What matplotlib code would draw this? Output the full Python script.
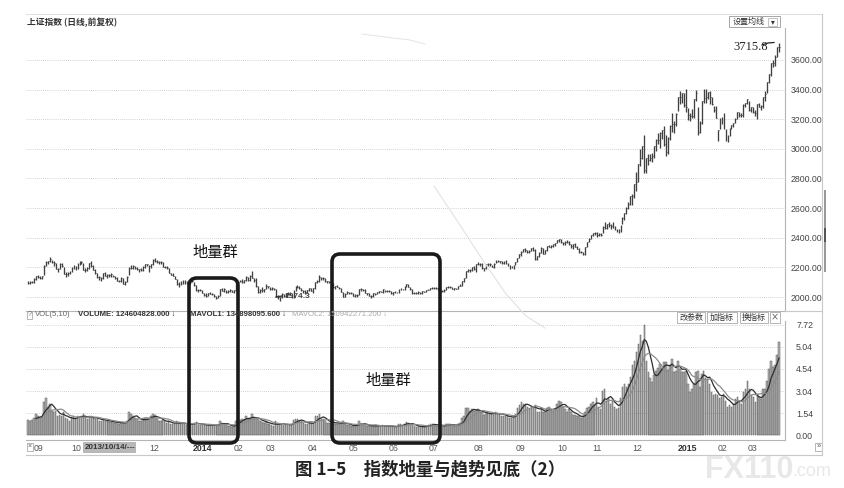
import numpy as np
import pandas as pd
import matplotlib
matplotlib.use('Agg')
import matplotlib.pyplot as plt
from matplotlib.patches import FancyBboxPatch, Rectangle

plt.rcParams['font.family'] = ['Liberation Sans', 'Noto Sans CJK SC', 'DejaVu Sans']
CJK = ['Noto Sans CJK SC', 'DejaVu Sans']

# ---------------- trading calendar (SSE) ----------------
holidays = ['2013-09-19', '2013-09-20', '2013-10-01', '2013-10-02', '2013-10-03', '2013-10-04',
            '2013-10-07', '2014-01-01', '2014-01-31', '2014-02-03', '2014-02-04', '2014-02-05',
            '2014-02-06', '2014-04-07', '2014-05-01', '2014-05-02', '2014-06-02', '2014-09-08',
            '2014-10-01', '2014-10-02', '2014-10-03', '2014-10-06', '2014-10-07', '2015-01-01',
            '2015-01-02', '2015-02-18', '2015-02-19', '2015-02-20', '2015-02-23', '2015-02-24']
dates = pd.bdate_range('2013-08-28', '2015-03-24')
dates = dates[~dates.isin(pd.to_datetime(holidays))]

# ---------------- daily data ----------------
close = [2097, 2102, 2098,
         2123, 2141, 2138, 2127, 2139, 2212, 2237, 2241, 2255, 2236, 2231, 2192, 2191, 2221, 2208, 2155, 2155, 2160, 2174,
         2198, 2211, 2190, 2228, 2238, 2233, 2183, 2183, 2193, 2229, 2210, 2184, 2164, 2133, 2133, 2128, 2160, 2141,
         2149, 2149, 2157, 2139, 2129, 2106, 2109, 2126, 2087, 2101, 2135, 2197, 2193, 2206, 2193, 2186, 2186, 2183, 2201, 2220, 2220,
         2207, 2222, 2251, 2245, 2238, 2238, 2238, 2205, 2202, 2196, 2161, 2151, 2143, 2123, 2085, 2090, 2089, 2114, 2089, 2102, 2097, 2116,
         2109, 2083, 2045, 2047, 2045, 2027, 2014, 2009, 2027, 2023, 2023, 2004, 1991, 2009, 2052, 2042, 2054, 2033, 2038, 2049, 2033,
         2044, 2086, 2104, 2110, 2100, 2115, 2135, 2113, 2142, 2128, 2113, 2076, 2034, 2048, 2047, 2056,
         2075, 2071, 2053, 2060, 2057, 1999, 2001, 1997, 2020, 2004, 2024, 2025, 2021, 1994, 2047, 2066, 2067, 2064, 2046, 2041, 2033,
         2047, 2059, 2043, 2058, 2100, 2105, 2134, 2130, 2131, 2105, 2105, 2099, 2098, 2066, 2072, 2067, 2063, 2036, 2003, 2023, 2033,
         2027, 2029, 2010, 2016, 2011, 2053, 2051, 2048, 2025, 2026, 2005, 2008, 2024, 2021, 2034, 2041, 2034, 2051, 2040, 2039,
         2038, 2024, 2035, 2030, 2029, 2052, 2055, 2051, 2070, 2087, 2066, 2055, 2024, 2026, 2024, 2034, 2025, 2038, 2036, 2048,
         2050, 2060, 2064, 2059, 2059, 2060, 2039, 2038, 2046, 2067, 2067, 2065, 2057, 2059, 2055, 2075, 2076, 2105, 2127, 2177, 2184, 2182, 2201,
         2186, 2223, 2221, 2224, 2195, 2194, 2225, 2222, 2222, 2205, 2226, 2239, 2245, 2240, 2229, 2241, 2229, 2207, 2207, 2195, 2217,
         2235, 2266, 2288, 2306, 2326, 2318, 2307, 2311, 2331, 2316, 2256, 2277, 2296, 2329, 2290, 2315, 2345, 2340, 2347, 2357, 2364,
         2382, 2389, 2374, 2366, 2372, 2373, 2356, 2341, 2357, 2339, 2326, 2302, 2302, 2290, 2337, 2373, 2391, 2420,
         2430, 2430, 2419, 2425, 2418, 2474, 2469, 2494, 2485, 2478, 2474, 2456, 2450, 2452, 2487, 2532, 2567, 2604, 2630, 2683,
         2680, 2763, 2779, 2899, 2937, 3020, 2856, 2940, 2925, 2938, 2953, 3021, 3061, 3057, 3108, 3128, 3032, 2977, 3073, 3157, 3168, 3165, 3235,
         3351, 3352, 3374, 3294, 3285, 3229, 3223, 3222, 3336, 3376, 3117, 3173, 3323, 3343, 3351, 3383, 3352, 3305, 3263, 3210,
         3128, 3204, 3174, 3136, 3076, 3095, 3142, 3158, 3173, 3204, 3247, 3228, 3229, 3298, 3310,
         3336, 3263, 3280, 3248, 3241, 3302, 3286, 3291, 3349, 3373, 3449, 3503, 3577, 3582, 3617, 3688, 3691]

high = [2110, 2110, 2108,
        2128, 2145, 2148, 2142, 2144, 2213, 2240, 2245, 2270, 2252, 2246, 2228, 2197, 2230, 2227, 2201, 2167, 2168, 2176,
        2202, 2215, 2209, 2229, 2240, 2242, 2229, 2193, 2200, 2230, 2242, 2216, 2186, 2163, 2140, 2138, 2161, 2170,
        2153, 2157, 2160, 2151, 2140, 2133, 2116, 2135, 2130, 2106, 2139, 2204, 2213, 2213, 2210, 2202, 2192, 2199, 2206, 2222, 2223,
        2213, 2224, 2258, 2261, 2248, 2242, 2245, 2236, 2210, 2207, 2197, 2165, 2162, 2144, 2123, 2099, 2107, 2116, 2112, 2107, 2112, 2118,
        2113, 2103, 2079, 2052, 2056, 2046, 2030, 2024, 2028, 2035, 2030, 2022, 2009, 2011, 2056, 2060, 2058, 2045, 2044, 2054, 2044,
        2048, 2086, 2105, 2115, 2119, 2117, 2143, 2138, 2146, 2177, 2130, 2126, 2075, 2052, 2067, 2057,
        2086, 2075, 2070, 2066, 2063, 2055, 2011, 2003, 2026, 2020, 2025, 2036, 2034, 2021, 2048, 2071, 2080, 2075, 2062, 2047, 2047,
        2048, 2064, 2061, 2059, 2101, 2112, 2146, 2132, 2133, 2131, 2110, 2110, 2103, 2095, 2075, 2080, 2070, 2062, 2036, 2026, 2039,
        2032, 2031, 2029, 2021, 2019, 2054, 2058, 2053, 2051, 2028, 2025, 2013, 2025, 2026, 2037, 2042, 2042, 2051, 2050, 2045,
        2045, 2038, 2037, 2040, 2034, 2053, 2061, 2055, 2071, 2088, 2088, 2068, 2057, 2034, 2034, 2039, 2034, 2039, 2043, 2050,
        2051, 2061, 2066, 2068, 2066, 2063, 2059, 2046, 2051, 2067, 2072, 2071, 2068, 2063, 2064, 2075, 2085, 2107, 2128, 2178, 2189, 2189, 2202,
        2209, 2225, 2235, 2227, 2227, 2197, 2226, 2228, 2227, 2219, 2227, 2248, 2249, 2245, 2241, 2244, 2247, 2232, 2214, 2210, 2217,
        2236, 2266, 2288, 2308, 2326, 2331, 2318, 2316, 2334, 2338, 2321, 2277, 2301, 2336, 2333, 2316, 2346, 2350, 2353, 2358, 2364,
        2383, 2391, 2391, 2373, 2375, 2382, 2376, 2356, 2358, 2362, 2342, 2331, 2311, 2301, 2337, 2374, 2397, 2420,
        2435, 2442, 2440, 2432, 2433, 2476, 2509, 2495, 2506, 2491, 2503, 2476, 2457, 2458, 2488, 2538, 2568, 2605, 2640, 2683,
        2696, 2763, 2842, 2899, 3002, 3020, 3091, 2940, 2964, 2964, 2970, 3021, 3067, 3104, 3111, 3130, 3153, 3095, 3083, 3158, 3239, 3190, 3239,
        3351, 3394, 3374, 3374, 3404, 3279, 3243, 3269, 3337, 3400, 3285, 3190, 3323, 3406, 3406, 3384, 3390, 3353, 3289, 3288,
        3129, 3207, 3214, 3244, 3134, 3097, 3142, 3160, 3175, 3206, 3248, 3250, 3245, 3301, 3313,
        3339, 3325, 3286, 3283, 3260, 3303, 3308, 3294, 3351, 3394, 3450, 3503, 3578, 3600, 3632, 3689, 3716]

low = [2085, 2090, 2092,
       2094, 2117, 2127, 2121, 2120, 2148, 2206, 2222, 2234, 2228, 2210, 2186, 2170, 2186, 2201, 2153, 2136, 2145, 2154,
       2172, 2190, 2184, 2186, 2218, 2223, 2179, 2170, 2175, 2191, 2202, 2180, 2157, 2125, 2115, 2111, 2124, 2140,
       2130, 2134, 2138, 2135, 2121, 2105, 2098, 2103, 2087, 2081, 2101, 2150, 2186, 2188, 2189, 2179, 2170, 2175, 2177, 2199, 2206,
       2168, 2199, 2218, 2236, 2232, 2225, 2226, 2204, 2195, 2187, 2160, 2146, 2141, 2121, 2083, 2066, 2083, 2088, 2088, 2087, 2091, 2099,
       2101, 2074, 2041, 2032, 2040, 2024, 2004, 1998, 2009, 2017, 2012, 2002, 1984, 1994, 2008, 2039, 2034, 2025, 2028, 2035, 2032,
       2024, 2043, 2079, 2099, 2096, 2096, 2107, 2107, 2108, 2126, 2102, 2067, 2025, 2026, 2034, 2033,
       2052, 2058, 2047, 2045, 2049, 1998, 1989, 1974, 1996, 2002, 2001, 2016, 2013, 1994, 1992, 2043, 2060, 2055, 2041, 2028, 2020,
       2024, 2040, 2039, 2030, 2056, 2092, 2099, 2116, 2114, 2101, 2092, 2094, 2087, 2064, 2051, 2066, 2055, 2033, 2003, 2001, 2019,
       2018, 2018, 2009, 2001, 1999, 2013, 2043, 2041, 2025, 2014, 2005, 1996, 2003, 2013, 2018, 2027, 2032, 2030, 2036, 2033,
       2031, 2022, 2014, 2027, 2024, 2025, 2047, 2044, 2048, 2067, 2065, 2050, 2023, 2017, 2017, 2021, 2022, 2023, 2031, 2033,
       2044, 2047, 2055, 2056, 2051, 2050, 2035, 2033, 2032, 2044, 2060, 2061, 2055, 2049, 2051, 2054, 2071, 2075, 2100, 2127, 2166, 2171, 2175,
       2182, 2170, 2214, 2208, 2191, 2175, 2191, 2209, 2208, 2203, 2196, 2227, 2233, 2228, 2223, 2222, 2225, 2206, 2190, 2193, 2190,
       2214, 2233, 2262, 2279, 2303, 2304, 2294, 2297, 2309, 2309, 2248, 2247, 2273, 2294, 2290, 2287, 2310, 2335, 2332, 2338, 2347,
       2362, 2373, 2364, 2351, 2354, 2362, 2352, 2329, 2327, 2338, 2323, 2298, 2294, 2282, 2285, 2335, 2370, 2389,
       2413, 2420, 2403, 2411, 2412, 2435, 2459, 2456, 2473, 2461, 2467, 2452, 2438, 2434, 2440, 2496, 2522, 2557, 2597, 2623,
       2624, 2667, 2717, 2775, 2886, 2933, 2834, 2839, 2888, 2916, 2911, 2938, 2983, 3036, 3008, 3070, 3020, 2952, 2966, 3060, 3116, 3107, 3157,
       3258, 3303, 3311, 3285, 3249, 3197, 3191, 3210, 3207, 3326, 3095, 3104, 3165, 3313, 3313, 3337, 3301, 3297, 3248, 3210,
       3050, 3133, 3170, 3134, 3050, 3049, 3090, 3134, 3145, 3177, 3201, 3213, 3212, 3214, 3284,
       3306, 3257, 3247, 3240, 3225, 3201, 3280, 3263, 3276, 3325, 3375, 3442, 3490, 3551, 3562, 3621, 3653]

volume = [1.05, 0.98, 1.02,
          1.2, 1.5, 1.35, 1.2, 1.25, 2.3, 2.6, 2.0, 2.2, 1.7, 1.6, 1.7, 1.3, 1.4, 1.3, 1.6, 1.2, 1.1, 1.0,
          1.2, 1.3, 1.2, 1.35, 1.25, 1.3, 1.5, 1.2, 1.1, 1.3, 1.3, 1.2, 1.1, 1.2, 1.0, 1.0, 1.1, 1.0,
          1.0, 0.9, 0.9, 0.95, 0.85, 0.9, 0.8, 0.85, 0.9, 0.85, 1.0, 1.6, 1.5, 1.3, 1.2, 1.1, 1.0, 1.0, 1.1, 1.2, 1.15,
          1.2, 1.3, 1.45, 1.4, 1.1, 1.0, 1.0, 1.05, 0.95, 0.85, 0.95, 0.8, 0.75, 0.8, 0.95, 0.9, 0.75, 0.8, 0.8, 0.7, 0.75, 0.8,
          0.8, 0.85, 0.9, 0.7, 0.7, 0.7, 0.75, 0.65, 0.7, 0.7, 0.65, 0.7, 0.7, 0.7, 0.95, 0.85, 0.8, 0.7, 0.65, 0.6, 0.55,
          0.65, 0.95, 1.1, 1.05, 1.15, 1.05, 1.3, 1.2, 1.15, 1.45, 1.1, 1.2, 1.1, 0.95, 0.9, 0.85,
          0.95, 0.8, 0.75, 0.7, 0.65, 0.95, 0.75, 0.8, 0.8, 0.7, 0.7, 0.75, 0.7, 0.75, 1.05, 1.15, 1.1, 1.0, 0.95, 0.85, 0.8,
          0.8, 0.85, 0.85, 0.8, 1.3, 1.35, 1.45, 1.1, 1.15, 1.0, 0.85, 0.85, 0.85, 0.95, 0.8, 0.8, 0.8, 0.85, 0.95, 0.75, 0.7,
          0.7, 0.6, 0.65, 0.7, 0.7, 0.95, 0.8, 0.7, 0.75, 0.6, 0.65, 0.6, 0.65, 0.7, 0.65, 0.65, 0.6, 0.7, 0.65, 0.6,
          0.6, 0.6, 0.65, 0.55, 0.55, 0.8, 0.75, 0.7, 0.75, 0.9, 0.85, 0.7, 0.75, 0.6, 0.55, 0.6, 0.6, 0.6, 0.55, 0.65,
          0.7, 0.75, 0.75, 0.8, 0.65, 0.65, 0.7, 0.6, 0.6, 0.75, 0.75, 0.75, 0.7, 0.65, 0.6, 0.75, 0.85, 1.2, 1.3, 1.9, 1.9, 1.7, 1.8,
          1.7, 1.75, 1.8, 1.6, 1.6, 1.4, 1.5, 1.6, 1.5, 1.45, 1.4, 1.6, 1.55, 1.5, 1.3, 1.35, 1.3, 1.35, 1.2, 1.2, 1.25,
          1.5, 1.9, 2.1, 2.3, 2.2, 2.2, 2.0, 1.8, 1.9, 2.0, 2.1, 1.6, 1.6, 1.9, 1.6, 1.6, 1.9, 2.0, 1.8, 1.7, 1.8,
          2.2, 2.4, 2.3, 2.0, 1.8, 1.6, 1.8, 1.6, 1.4, 1.4, 1.3, 1.3, 1.2, 1.3, 1.6, 1.9, 2.0, 2.2,
          2.3, 2.1, 2.6, 2.0, 1.8, 3.1, 3.2, 2.4, 2.6, 2.2, 2.4, 2.0, 1.8, 1.9, 2.6, 3.4, 3.6, 3.4, 3.6, 4.1,
          4.9, 5.2, 5.8, 6.4, 7.0, 6.6, 7.7, 5.2, 4.4, 4.0, 3.7, 4.2, 4.5, 4.7, 5.0, 4.7, 5.1, 5.1, 4.5, 4.9, 5.3, 4.4, 4.5,
          5.2, 4.6, 4.4, 4.4, 4.5, 3.6, 3.0, 3.2, 3.6, 4.4, 4.5, 3.4, 4.3, 4.5, 4.0, 3.9, 3.6, 3.0, 2.8, 2.9,
          2.8, 2.6, 2.7, 2.9, 2.4, 2.0, 2.1, 2.0, 2.2, 2.5, 2.7, 2.4, 2.2, 3.0, 3.2,
          3.8, 3.2, 2.8, 2.7, 2.3, 2.9, 2.7, 2.5, 3.2, 3.2, 3.8, 4.6, 5.2, 4.8, 4.9, 5.6, 6.5]

price_ticks = [2000, 2200, 2400, 2600, 2800, 3000, 3200, 3400, 3600]
vol_tick_labels = ['0.00', '1.54', '3.04', '4.54', '5.04', '7.72']
# "11" of 2013 is hidden under the cursor date box in the reference
month_labels = ['09', '10', '', '12', '2014', '02', '03', '04', '05', '06', '07', '08',
                '09', '10', '11', '12', '2015', '02', '03']

n = len(dates)
for name, arr in [('close', close), ('high', high), ('low', low), ('volume', volume)]:
    if len(arr) != n:
        raise SystemExit(f'{name} has {len(arr)} values, calendar has {n}')

x = np.arange(n)
vol = pd.Series(volume)
ma5 = vol.rolling(5).mean()
ma10 = vol.rolling(10).mean()
month_pos = [i for i in range(1, n) if dates[i].month != dates[i - 1].month]

# ---------------- figure ----------------
W, H = 844, 488
fig = plt.figure(figsize=(W / 100, H / 100), dpi=100)
fig.patch.set_facecolor('white')

def px_axes(x0, y0, x1, y1, **kw):
    return fig.add_axes([x0 / W, 1 - y1 / H, (x1 - x0) / W, (y1 - y0) / H], **kw)

AX_L, AX_R = 26, 785
grid_kw = dict(color='#c4c4c4', lw=0.6, ls=(0, (1, 1.5)))
spine_c = '#b5b5b5'

# price panel
axp = px_axes(AX_L, 28, AX_R, 311)
axp.set_xlim(-1, 382)
axp.set_ylim(1905.5, 3816)
axp.vlines(x, low, high, color='#404040', lw=0.95)
axp.hlines(close, x, x + 0.45, color='#404040', lw=0.7)
axp.set_yticks(price_ticks)
axp.set_yticklabels([f'{v:.2f}' for v in price_ticks])
axp.yaxis.tick_right()
axp.tick_params(axis='y', length=0, pad=4, labelsize=6.3, labelcolor='#444')
axp.set_xticks([])
for t in price_ticks:
    axp.axhline(t, **grid_kw, zorder=0)
for s in ['left', 'top']:
    axp.spines[s].set_visible(False)
for s in ['right', 'bottom']:
    axp.spines[s].set_color(spine_c)
    axp.spines[s].set_linewidth(0.8)

# volume panel
axv = px_axes(AX_L, 321, AX_R, 440)
axv.set_xlim(-1, 382)
axv.set_ylim(-0.35, 8.0)
axv.bar(x, volume, width=0.75, color='#b2b2b2', edgecolor='#5a5a5a', linewidth=0.35)
axv.plot(x, ma5, color='#2e2e2e', lw=0.9)
axv.plot(x, ma10, color='#8c8c8c', lw=0.9)
vt = [i * 1.544 for i in range(6)]
axv.set_yticks(vt)
axv.set_yticklabels(vol_tick_labels)
axv.yaxis.tick_right()
axv.tick_params(axis='y', length=0, pad=8, labelsize=6.3, labelcolor='#444')
for t in vt[1:]:
    axv.axhline(t, **grid_kw, zorder=0)
axv.set_xticks(month_pos)
axv.set_xticklabels(month_labels)
axv.tick_params(axis='x', length=0, pad=3, labelsize=6.3, labelcolor='#555')
for lab in axv.get_xticklabels():
    lab.set_horizontalalignment('left')
    if lab.get_text() in ('2014', '2015'):
        lab.set_fontweight('bold')
        lab.set_color('#333')
for s in ['left', 'top']:
    axv.spines[s].set_visible(False)
for s in ['right', 'bottom']:
    axv.spines[s].set_color(spine_c)
    axv.spines[s].set_linewidth(0.8)

# ---------------- overlay (decorations / annotations) ----------------
ov = fig.add_axes([0, 0, 1, 1], zorder=10)
ov.set_xlim(0, W)
ov.set_ylim(H, 0)
ov.axis('off')
ov.patch.set_alpha(0)

# frame lines
ov.plot([26, 822], [14, 14], color='#dddddd', lw=0.7)
ov.plot([822, 822], [14, 455], color='#c8c8c8', lw=0.8)
ov.plot([26, 822], [455, 455], color='#c8c8c8', lw=0.8)
ov.plot([785, 822], [311, 311], color='#c8c8c8', lw=0.8)
ov.add_patch(Rectangle((823.5, 190), 2.5, 82, color='#9a9a9a', lw=0))
ov.add_patch(Rectangle((823.5, 228), 2.5, 14, color='#555', lw=0))

# faint scan artefacts
ov.plot([434, 458, 484, 506, 526, 545], [186, 222, 262, 294, 316, 328], color='#e2e2e2', lw=0.8)
ov.plot([362, 385, 410, 425], [34, 37, 40, 44], color='#e4e4e4', lw=0.7)

# titles
ov.text(27, 22, '上证指数 (日线,前复权)', fontsize=6.3, fontweight='bold', color='#333',
        va='center', ha='left', family=CJK)
ov.add_patch(Rectangle((729, 16), 51, 11, fc='white', ec='#999', lw=0.6))
ov.text(733, 21.5, '设置均线', fontsize=5.8, color='#333', va='center', ha='left', family=CJK)
ov.add_patch(Rectangle((768, 17.5), 9, 8, fc='white', ec='#aaa', lw=0.5))
ov.text(772.5, 21.5, '▾', fontsize=5.5, color='#333', va='center', ha='center', family=['DejaVu Sans'])

# peak / low labels
ov.text(733, 47, '3715.8', fontsize=9, family=['Liberation Serif'], color='#222', va='center', ha='left')
ov.plot([762, 768, 774], [45, 43, 42.5], color='#222', lw=0.9)
ov.plot([276, 282], [297, 296], color='#333', lw=1.0)
ov.text(284, 297, '1974.3', fontsize=6, fontweight='bold', color='#444', va='center', ha='left')

# volume header
hy = 315
ov.add_patch(Rectangle((27, hy - 4), 5, 8, fc='white', ec='#999', lw=0.5))
ov.text(29.5, hy, '?', fontsize=5, color='#666', va='center', ha='center')
ov.text(35, hy, 'VOL(5,10)', fontsize=5.6, color='#666', va='center', ha='left')
ov.text(78, hy, 'VOLUME: 124604828.000 ↓', fontsize=5.6, fontweight='bold', color='#333',
        va='center', ha='left', family=['Liberation Sans', 'DejaVu Sans'])
ov.text(190, hy, 'MAVOL1: 134898095.600 ↓', fontsize=5.6, fontweight='bold', color='#333',
        va='center', ha='left', family=['Liberation Sans', 'DejaVu Sans'])
ov.text(292, hy, 'MAVOL2: 150942271.200 ↓', fontsize=5.6, color='#aaa',
        va='center', ha='left', family=['Liberation Sans', 'DejaVu Sans'])
for bx, bw, lab in [(677, 28, '改参数'), (707, 30, '加指标'), (740, 28, '换指标'), (770, 10, '×')]:
    ov.add_patch(Rectangle((bx, 311.5), bw, 11, fc='white', ec='#999', lw=0.5))
    ov.text(bx + bw / 2, 317, lab, fontsize=5.8, color='#333', va='center', ha='center', family=CJK)

# date row decorations
ov.add_patch(Rectangle((83, 442), 52, 10, fc='#b8b8b8', ec='#999', lw=0.4))
ov.text(85, 447.5, '2013/10/14/---', fontsize=5.8, fontweight='bold', color='#333', va='center', ha='left')
ov.add_patch(Rectangle((27, 442.5), 6, 8, fc='white', ec='#999', lw=0.5))
ov.text(30, 446.5, '×', fontsize=5, color='#555', va='center', ha='center')
ov.add_patch(Rectangle((815, 442.5), 7, 8, fc='white', ec='#999', lw=0.5))
ov.text(818.5, 446.5, '»', fontsize=5.5, color='#555', va='center', ha='center')

# annotation boxes
for (bx0, by0, bx1, by1) in [(189, 278, 238, 443), (332, 254, 440, 443)]:
    ov.add_patch(FancyBboxPatch((bx0, by0), bx1 - bx0, by1 - by0,
                                boxstyle='round,pad=0,rounding_size=8',
                                fc='none', ec='#1a1a1a', lw=2.6))
ov.text(215, 253, '地量群', fontsize=11, color='#111', va='center', ha='center', family=CJK)
ov.text(388, 381, '地量群', fontsize=11, color='#111', va='center', ha='center', family=CJK)

# caption and watermark
ov.text(705, 470, 'FX110', fontsize=22, fontweight='bold', color='#e8e8e8', va='center', ha='left',
        family=['Liberation Sans'])
ov.text(792, 472, '.com', fontsize=13, color='#e8e8e8', va='center', ha='left', family=['Liberation Sans'])
ov.text(430, 469, '图 1–5　指数地量与趋势见底（2）', fontsize=12.5, fontweight='bold', color='#222',
        va='center', ha='center', family=CJK)

fig.savefig('out.png', dpi=100)
